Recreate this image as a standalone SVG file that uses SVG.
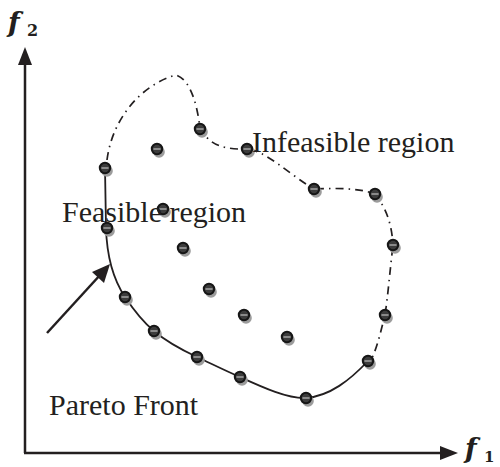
<svg xmlns="http://www.w3.org/2000/svg" width="500" height="467" viewBox="0 0 500 467">
<style>
.lbl{font-family:"Liberation Serif","Times New Roman",serif;font-size:30px;fill:#231f20}
.ax{font-family:"DejaVu Serif","Liberation Serif",serif;font-weight:bold;fill:#231f20}
.sh{fill:#9c9c9c}
.pt{fill:#3c3c3c;stroke:#161616;stroke-width:2}
.st{fill:#8a8a8a}
</style>
<defs>
<g id="dot">
<circle class="sh" cx="2" cy="3" r="5.8"/>
<circle class="pt" cx="0" cy="0" r="5.2"/>
<rect class="st" x="-3.6" y="-1" width="7.2" height="2"/>
</g>
</defs>
<rect width="500" height="467" fill="#fff"/>
<g id="axes" stroke="#231f20" stroke-width="2.5" fill="none">
<line x1="25" y1="62" x2="25" y2="453"/>
<line x1="24" y1="453" x2="442" y2="453"/>
</g>
<g id="axis-heads" fill="#231f20">
<polygon points="25,47 18,65 32,65"/>
<polygon points="458,453 440,446 440,460"/>
</g>
<g id="label-f2"><text class="ax" x="8" y="32" font-size="27" font-style="italic">f</text><text class="ax" x="27" y="36" font-size="16">2</text></g>
<g id="label-f1"><text class="ax" x="465" y="458" font-size="27" font-style="italic">f</text><text class="ax" x="484" y="462" font-size="15">1</text></g>
<g id="connectors" fill="none" stroke="#231f20">
<path id="infeasible-boundary" stroke-width="1.7" stroke-dasharray="8 5 1.5 5" d="M107,160 C112,120 140,85 176,75 C192,80 198,110 200,129 C208,140 215,150 247,149 C265,150 290,175 314,189 C335,188 360,188 375,194 C388,210 392,228 393,245 C390,270 388,295 385,315 C381,330 378,345 372,358"/>
<path id="pareto-front" stroke-width="1.8" d="M105,168 L106,228 C107,262 115,282 125,297 C135,312 143,322 154,331 C168,343 182,350 197,357 C212,364 226,371 240,377 C262,387 288,399 306,398 C330,396 350,380 368,361"/>
<line id="pareto-arrow" x1="47" y1="333" x2="101" y2="274" stroke-width="2.5"/>
<polygon points="110,264 92,272 104,283" fill="#231f20" stroke="none"/>
</g>
<g id="points">
<use href="#dot" x="105" y="168"/>
<use href="#dot" x="157" y="149"/>
<use href="#dot" x="200" y="129"/>
<use href="#dot" x="247" y="149"/>
<use href="#dot" x="314" y="189"/>
<use href="#dot" x="375" y="194"/>
<use href="#dot" x="393" y="245"/>
<use href="#dot" x="385" y="315"/>
<use href="#dot" x="368" y="361"/>
<use href="#dot" x="306" y="398"/>
<use href="#dot" x="240" y="377"/>
<use href="#dot" x="197" y="357"/>
<use href="#dot" x="154" y="331"/>
<use href="#dot" x="125" y="297"/>
<use href="#dot" x="107" y="228"/>
<use href="#dot" x="163" y="209"/>
<use href="#dot" x="183" y="248"/>
<use href="#dot" x="209" y="289"/>
<use href="#dot" x="244" y="315"/>
<use href="#dot" x="287" y="337"/>
</g>
<g id="label-feasible"><text class="lbl" x="62" y="222">Feasible region</text></g>
<g id="label-infeasible"><text class="lbl" x="252" y="152">Infeasible region</text></g>
<g id="label-pareto"><text class="lbl" x="49" y="415">Pareto Front</text></g>
</svg>
